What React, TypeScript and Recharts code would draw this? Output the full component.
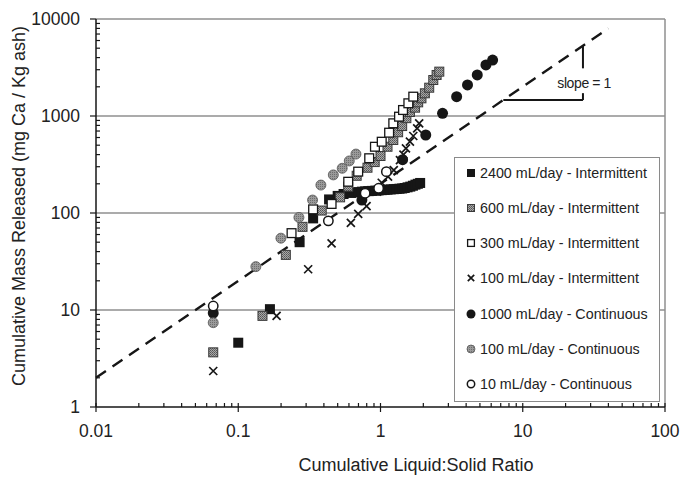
import React from 'react';
import {
  ScatterChart,
  Scatter,
  XAxis,
  YAxis,
  ReferenceLine,
  ReferenceDot,
  Legend,
} from 'recharts';

type Pt = { x: number; y: number };

// Cumulative L/S ratio (x) vs cumulative Ca released, mg/kg ash (y)
const intermittent2400: Pt[] = [
  { x: 0.1, y: 4.6 }, { x: 0.167, y: 10.2 }, { x: 0.27, y: 50 }, { x: 0.336, y: 88 },
  { x: 0.435, y: 138 }, { x: 0.5, y: 150 }, { x: 0.55, y: 157 },
  { x: 0.62, y: 161 }, { x: 0.66, y: 163 }, { x: 0.7, y: 164 }, { x: 0.74, y: 166 },
  { x: 0.78, y: 167 }, { x: 0.82, y: 168 }, { x: 0.87, y: 169 }, { x: 0.92, y: 170 },
  { x: 0.97, y: 171 }, { x: 1.02, y: 172 }, { x: 1.07, y: 173 }, { x: 1.12, y: 174 },
  { x: 1.18, y: 175 }, { x: 1.24, y: 176 }, { x: 1.3, y: 177 }, { x: 1.36, y: 178 },
  { x: 1.42, y: 179 }, { x: 1.48, y: 181 }, { x: 1.55, y: 184 }, { x: 1.62, y: 187 },
  { x: 1.69, y: 191 }, { x: 1.76, y: 196 }, { x: 1.83, y: 200 }, { x: 1.9, y: 204 },
];

const intermittent600: Pt[] = [
  { x: 0.0667, y: 3.66 }, { x: 0.148, y: 8.7 }, { x: 0.216, y: 37 }, { x: 0.283, y: 72 },
  { x: 0.386, y: 106 }, { x: 0.52, y: 145 }, { x: 0.593, y: 187 }, { x: 0.68, y: 242 },
  { x: 0.81, y: 293 }, { x: 0.91, y: 335 }, { x: 1.0, y: 387 }, { x: 1.12, y: 482 },
  { x: 1.23, y: 566 }, { x: 1.33, y: 680 }, { x: 1.42, y: 788 }, { x: 1.52, y: 950 },
  { x: 1.61, y: 1100 }, { x: 1.75, y: 1219 }, { x: 1.84, y: 1383 }, { x: 1.94, y: 1521 },
  { x: 2.05, y: 1714 }, { x: 2.2, y: 1958 }, { x: 2.35, y: 2350 }, { x: 2.48, y: 2648 },
  { x: 2.59, y: 2866 },
];

const intermittent300: Pt[] = [
  { x: 0.237, y: 62 }, { x: 0.336, y: 109 }, { x: 0.453, y: 124 }, { x: 0.593, y: 210 },
  { x: 0.697, y: 267 }, { x: 0.833, y: 367 }, { x: 0.914, y: 482 }, { x: 1.02, y: 543 },
  { x: 1.15, y: 673 }, { x: 1.23, y: 841 }, { x: 1.35, y: 984 }, { x: 1.44, y: 1153 },
  { x: 1.57, y: 1352 }, { x: 1.7, y: 1583 },
];

const intermittent100: Pt[] = [
  { x: 0.0667, y: 2.35 }, { x: 0.186, y: 8.7 }, { x: 0.31, y: 26.3 }, { x: 0.453, y: 48.7 },
  { x: 0.619, y: 79 }, { x: 0.697, y: 98 }, { x: 0.798, y: 118 }, { x: 0.948, y: 166 },
  { x: 1.02, y: 205 }, { x: 1.13, y: 237 }, { x: 1.24, y: 277 }, { x: 1.37, y: 351 },
  { x: 1.45, y: 400 }, { x: 1.51, y: 464 }, { x: 1.61, y: 543 }, { x: 1.7, y: 622 },
  { x: 1.81, y: 747 }, { x: 1.87, y: 841 },
];

const continuous1000: Pt[] = [
  { x: 0.0667, y: 9.3 }, { x: 0.74, y: 136 }, { x: 1.43, y: 355 }, { x: 2.08, y: 637 },
  { x: 2.73, y: 1066 }, { x: 3.43, y: 1583 }, { x: 4.09, y: 2089 }, { x: 4.79, y: 2648 },
  { x: 5.51, y: 3357 }, { x: 6.14, y: 3777 },
];

const continuous100: Pt[] = [
  { x: 0.0667, y: 7.4 }, { x: 0.133, y: 28 }, { x: 0.1995, y: 55 }, { x: 0.267, y: 90 },
  { x: 0.333, y: 136 }, { x: 0.381, y: 194 }, { x: 0.466, y: 247 }, { x: 0.538, y: 289 },
  { x: 0.603, y: 344 }, { x: 0.672, y: 405 },
];

const continuous10: Pt[] = [
  { x: 0.0667, y: 11 }, { x: 0.43, y: 83 }, { x: 0.78, y: 160 }, { x: 0.97, y: 180 },
  { x: 1.1, y: 267 },
];

// slope = 1 reference line and its triangle
const slopeLine: Pt[] = [{ x: 0.01, y: 2 }, { x: 40, y: 8000 }];
const triangleRun: Pt[] = [{ x: 7.3, y: 1460 }, { x: 26.5, y: 1460 }];
const triangleRiseLow: Pt[] = [{ x: 26.5, y: 1460 }, { x: 26.5, y: 1720 }];
const triangleRiseHigh: Pt[] = [{ x: 26.5, y: 3100 }, { x: 26.5, y: 5300 }];
const slopeLabelAt: Pt = { x: 27, y: 2170 };
const slopeLabel = 'slope = 1';

const xMajorTicks = [0.01, 0.1, 1, 10, 100];
const yMajorTicks = [1, 10, 100, 1000, 10000];
const minorSteps = [2, 3, 4, 5, 6, 7, 8, 9];
const gridValues = [10, 100, 1000, 10000];

const xTitle = 'Cumulative Liquid:Solid Ratio';
const yTitle = 'Cumulative Mass Released (mg Ca / Kg ash)';

const FONT = '"Liberation Sans", Arial, Helvetica, sans-serif';

const withMinor = (majors: number[]) => {
  const out: number[] = [];
  majors.forEach((m, i) => {
    out.push(m);
    if (i < majors.length - 1) minorSteps.forEach((k) => out.push(+(m * k).toPrecision(6)));
  });
  return out;
};

type Kind = 'blackSquare' | 'hatchSquare' | 'whiteSquare' | 'cross' | 'blackCircle' | 'grayCircle' | 'whiteCircle';

const Glyph = ({ kind, cx, cy, s }: { kind: Kind; cx: number; cy: number; s: number }) => {
  const h = s / 2;
  switch (kind) {
    case 'blackSquare':
      return <rect x={cx - h} y={cy - h} width={s} height={s} fill="#161616" />;
    case 'hatchSquare':
      return <rect x={cx - h + 0.5} y={cy - h + 0.5} width={s - 1} height={s - 1} fill="url(#dots600)" stroke="#3a3a3a" strokeWidth={1} />;
    case 'whiteSquare':
      return <rect x={cx - h + 0.6} y={cy - h + 0.6} width={s - 1.2} height={s - 1.2} fill="#fff" stroke="#161616" strokeWidth={1.3} />;
    case 'cross': {
      const c = h * 0.8;
      return (
        <path
          d={`M${cx - c},${cy - c}L${cx + c},${cy + c}M${cx - c},${cy + c}L${cx + c},${cy - c}`}
          stroke="#161616"
          strokeWidth={1.7}
          fill="none"
        />
      );
    }
    case 'blackCircle':
      return <circle cx={cx} cy={cy} r={h + 0.5} fill="#161616" />;
    case 'grayCircle':
      return <circle cx={cx} cy={cy} r={h} fill="url(#dots100)" stroke="#555" strokeWidth={0.8} />;
    case 'whiteCircle':
      return <circle cx={cx} cy={cy} r={h - 0.3} fill="#fff" stroke="#161616" strokeWidth={1.5} />;
  }
  return null;
};

const series: { name: string; data: Pt[]; kind: Kind }[] = [
  { name: '2400 mL/day - Intermittent', data: intermittent2400, kind: 'blackSquare' },
  { name: '600 mL/day - Intermittent', data: intermittent600, kind: 'hatchSquare' },
  { name: '300 mL/day - Intermittent', data: intermittent300, kind: 'whiteSquare' },
  { name: '100 mL/day - Intermittent', data: intermittent100, kind: 'cross' },
  { name: '1000 mL/day - Continuous', data: continuous1000, kind: 'blackCircle' },
  { name: '100 mL/day - Continuous', data: continuous100, kind: 'grayCircle' },
  { name: '10 mL/day - Continuous', data: continuous10, kind: 'whiteCircle' },
];

const XTick = (props: any) => {
  const { x, y, payload } = props;
  const major = xMajorTicks.includes(payload.value);
  return (
    <g>
      {major ? (
        <line x1={x} x2={x} y1={y - 4} y2={y + 5} stroke="#161616" strokeWidth={1.2} />
      ) : (
        <line x1={x} x2={x} y1={y} y2={y - 4} stroke="#161616" strokeWidth={1.2} />
      )}
      {major && (
        <text x={x} y={y + 30} textAnchor="middle" fontSize={17.5} fontFamily={FONT} fill="#222">
          {String(payload.value)}
        </text>
      )}
    </g>
  );
};

const YTick = (props: any) => {
  const { x, y, payload } = props;
  const major = yMajorTicks.includes(payload.value);
  return (
    <g>
      {major ? (
        <line x1={x - 6} x2={x} y1={y} y2={y} stroke="#161616" strokeWidth={1.2} />
      ) : (
        <line x1={x} x2={x + 4} y1={y} y2={y} stroke="#161616" strokeWidth={1.2} />
      )}
      {major && (
        <text x={x - 16} y={y + 6} textAnchor="end" fontSize={17.5} fontFamily={FONT} fill="#222">
          {String(payload.value)}
        </text>
      )}
    </g>
  );
};

const LegendBox = () => (
  <div
    style={{
      position: 'relative',
      boxSizing: 'border-box',
      width: 206,
      height: 245,
      border: '1.5px solid #8a8a8a',
      background: '#fff',
      fontFamily: FONT,
      fontSize: 14.3,
      color: '#222',
    }}
  >
    {series.map((s, i) => (
      <div
        key={s.name}
        style={{
          position: 'absolute',
          left: 10,
          top: 14.5 + i * 35.3 - 10,
          height: 20,
          lineHeight: '20px',
          display: 'flex',
          alignItems: 'center',
          whiteSpace: 'nowrap',
        }}
      >
        <svg width={12} height={20} style={{ marginRight: 3 }}>
          <Glyph kind={s.kind} cx={6} cy={10} s={8} />
        </svg>
        <span>{s.name}</span>
      </div>
    ))}
  </div>
);

export default function App() {
  const xTicks = withMinor(xMajorTicks);
  const yTicks = withMinor(yMajorTicks);
  return (
    <div style={{ position: 'absolute', left: 0, top: 0, width: 684, height: 482, background: '#fff' }}>
      <ScatterChart width={684} height={482} margin={{ top: 19, right: 19, bottom: 0, left: 0 }}>
        <defs>
          <pattern id="dots600" width="2" height="2" patternUnits="userSpaceOnUse">
            <rect width="2" height="2" fill="#a8a8a8" />
            <rect width="1" height="1" fill="#555" />
            <rect x="1" y="1" width="1" height="1" fill="#6a6a6a" />
          </pattern>
          <pattern id="dots100" width="2" height="2" patternUnits="userSpaceOnUse">
            <rect width="2" height="2" fill="#9a9a9a" />
            <rect width="1" height="1" fill="#6e6e6e" />
          </pattern>
        </defs>
        <XAxis
          dataKey="x"
          type="number"
          scale="log"
          domain={[0.01, 100]}
          allowDataOverflow
          ticks={xTicks}
          interval={0}
          tick={<XTick />}
          tickLine={false}
          tickSize={0}
          tickMargin={0}
          height={75}
          axisLine={{ stroke: '#161616', strokeWidth: 1.5 }}
          label={() => (
            <text x={416} y={471} textAnchor="middle" fontSize={18} fontFamily={FONT} fill="#222">
              {xTitle}
            </text>
          )}
        />
        <YAxis
          dataKey="y"
          type="number"
          scale="log"
          domain={[1, 10000]}
          allowDataOverflow
          ticks={yTicks}
          interval={0}
          tick={<YTick />}
          tickLine={false}
          tickSize={0}
          tickMargin={0}
          width={96}
          axisLine={{ stroke: '#161616', strokeWidth: 1.5 }}
          label={() => (
            <text
              x={25}
              y={206}
              transform="rotate(-90 25 206)"
              textAnchor="middle"
              fontSize={18}
              fontFamily={FONT}
              fill="#222"
            >
              {yTitle}
            </text>
          )}
        />
        {gridValues.map((v) => (
          <ReferenceLine key={v} y={v} stroke="#8f8f8f" strokeWidth={1.5} />
        ))}
        <ReferenceLine x={100} stroke="#8f8f8f" strokeWidth={1.5} />
        <ReferenceLine
          segment={slopeLine}
          stroke="#161616"
          strokeWidth={2.4}
          strokeDasharray="12 8"
        />
        <ReferenceLine segment={triangleRun} stroke="#161616" strokeWidth={2} />
        <ReferenceLine segment={triangleRiseLow} stroke="#161616" strokeWidth={2} />
        <ReferenceLine segment={triangleRiseHigh} stroke="#161616" strokeWidth={2} />
        <ReferenceDot
          x={slopeLabelAt.x}
          y={slopeLabelAt.y}
          r={1}
          shape={(p: any) => (
            <text
              x={p.cx}
              y={p.cy + 5}
              textAnchor="middle"
              fontSize={14}
              letterSpacing={-0.4}
              fontFamily={FONT}
              fill="#222"
            >
              {slopeLabel}
            </text>
          )}
        />
        {series.map((s) => (
          <Scatter
            key={s.name}
            name={s.name}
            data={s.data}
            isAnimationActive={false}
            shape={(p: any) => <Glyph kind={s.kind} cx={p.cx} cy={p.cy} s={10} />}
          />
        ))}
        <Legend
          layout="vertical"
          align="center"
          verticalAlign="middle"
          wrapperStyle={{ left: 454, top: 157, width: 206, height: 245 }}
          content={() => <LegendBox />}
        />
      </ScatterChart>
    </div>
  );
}
